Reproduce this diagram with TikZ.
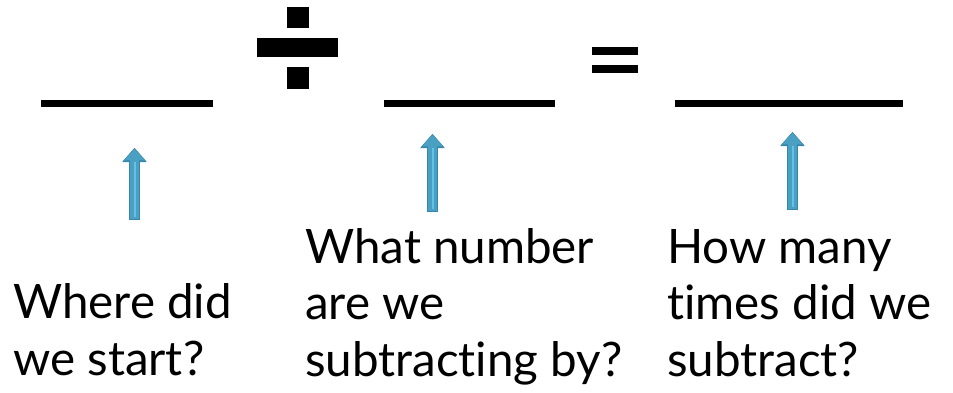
\documentclass[tikz,border=0pt]{standalone}
\usepackage{fontspec}
\setmainfont[Ligatures={NoCommon}]{Lato}
\usetikzlibrary{arrows.meta,calc}
\definecolor{arrowblue}{RGB}{74,160,195}
\definecolor{arrowdark}{RGB}{55,135,170}
\definecolor{arrowlight}{RGB}{100,195,228}
\tikzset{
  blank/.style={fill=black,draw=none},
  qtext/.style={anchor=base west,inner sep=0pt,font=\fontsize{47.5}{56.5}\selectfont,align=left},
  upconn/.style={line width=10pt,arrowdark,-{Triangle[width=22pt,length=13pt]},
    preaction={draw,line width=11.5pt,arrowdark,-{Triangle[width=23.5pt,length=14pt]}}},
  upfill/.style={line width=9pt,arrowblue,-{Triangle[width=20pt,length=11.5pt]},shorten >=0.8pt},
  upcore/.style={line width=2pt,arrowlight},
}
\begin{document}
\begin{tikzpicture}[x=1pt,y=-1pt]
\useasboundingbox (0,0) rectangle (953,392);
% blanks
\fill[blank] (41,100) rectangle (213,107);
\fill[blank] (384,100) rectangle (555,107);
\fill[blank] (675,100) rectangle (903,107);
% divide sign
\fill[blank] (287,7) rectangle (309,28);
\fill[blank] (257,38) rectangle (338,57);
\fill[blank] (287,67) rectangle (309,89);
% equals sign
\fill[blank] (592,47) rectangle (638,55);
\fill[blank] (592,65) rectangle (638,73);
% texts (anchor = baseline of last line)
\node[qtext] (q1) at (13,375) {Where did\\we start?};
\node[qtext] (q2) at (305,376) {What number\\are we\\subtracting by?};
\node[qtext] (q3) at (667,376) {How many\\times did we\\subtract?};
% arrow end points
\coordinate (t1) at (134.5,220); \coordinate (h1) at (134.5,148);
\coordinate (t2) at (432.5,212); \coordinate (h2) at (432.5,134);
\coordinate (t3) at (792.5,210); \coordinate (h3) at (792.5,132);
\foreach \i in {1,2,3}{
  \draw[upconn] (t\i) -- (h\i);
  \draw[upfill] ($(t\i)+(0,-0.75)$) -- (h\i);
  \draw[upcore] ($(t\i)+(0,-3)$) -- ($(h\i)+(0,14)$);
}
\end{tikzpicture}
\end{document}
